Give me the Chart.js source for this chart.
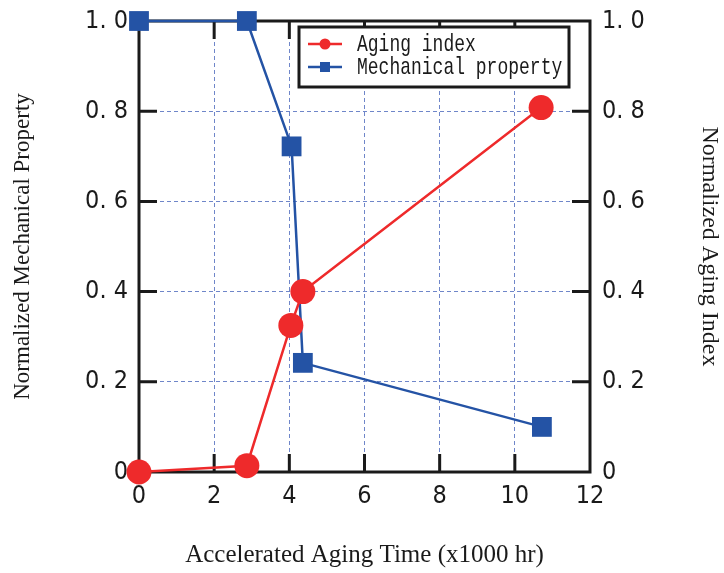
<!DOCTYPE html>
<html>
<head>
<meta charset="utf-8">
<script src="https://cdn.jsdelivr.net/npm/chart.js@4.4.0/dist/chart.umd.min.js"></script>
<style>
html, body { margin: 0; padding: 0; background: #fff; }
#wrap { width: 724px; height: 573px; }
</style>
</head>
<body>
<div id="wrap"><canvas id="agingChart" width="724" height="573"></canvas></div>
<script>
// values
const agingTime = [0, 2.87, 4.04, 4.36, 10.7];
const agingIndex = [0, 0.014, 0.325, 0.40, 0.808];
const mechTime = [0, 2.87, 4.06, 4.36, 10.72];
const mechProperty = [1.0, 1.0, 0.722, 0.242, 0.10];
const xTickLabels = ['0', '2', '4', '6', '8', '10', '12'];
const yTickLabels = ['0', '0. 2', '0. 4', '0. 6', '0. 8', '1. 0'];
const seriesNames = ['Aging index', 'Mechanical property'];

const RED = '#ee2a2b';
const BLUE = '#2453a5';
const GRID = '#6f86c9';
const TICK_FONT = '"Liberation Sans Narrow", "DejaVu Sans Condensed", sans-serif';
const TITLE_FONT = '"Liberation Serif", "DejaVu Serif", serif';

function toPoints(xs, ys) {
    return xs.map((x, i) => ({ x: x, y: ys[i] }));
}

// fixed axis boxes so the plot area lands where the reference has it
function fixWidth(w) {
    return s => { s.width = w; s.paddingTop = 0; s.paddingBottom = 0; };
}

/**
 * Draws the closed frame, the inward tick marks and the boxed legend.
 */
const framePlugin = {
    id: 'frame',
    beforeDatasetsDraw(chart) {
        const { ctx, chartArea: ca, scales } = chart;
        const len = 18;
        ctx.save();
        ctx.strokeStyle = '#1a1a1a';
        ctx.lineWidth = 3;
        ctx.beginPath();
        scales.x.ticks.forEach(t => {
            const px = scales.x.getPixelForValue(t.value);
            if (px <= ca.left + 1 || px >= ca.right - 1) return;
            ctx.moveTo(px, ca.bottom); ctx.lineTo(px, ca.bottom - len);
            ctx.moveTo(px, ca.top); ctx.lineTo(px, ca.top + len);
        });
        scales.y.ticks.forEach(t => {
            const py = scales.y.getPixelForValue(t.value);
            if (py <= ca.top + 1 || py >= ca.bottom - 1) return;
            ctx.moveTo(ca.left, py); ctx.lineTo(ca.left + len, py);
            ctx.moveTo(ca.right, py); ctx.lineTo(ca.right - len, py);
        });
        ctx.stroke();
        ctx.strokeRect(ca.left, ca.top, ca.right - ca.left, ca.bottom - ca.top);
        ctx.restore();
    },
    afterDatasetsDraw(chart) {
        const { ctx, chartArea: ca } = chart;
        const w = 270, h = 60;
        const left = ca.right - 21 - w;
        const top = ca.top + 6;
        ctx.save();
        ctx.fillStyle = '#fff';
        ctx.fillRect(left, top, w, h);
        ctx.strokeStyle = '#1a1a1a';
        ctx.lineWidth = 3;
        ctx.strokeRect(left, top, w, h);

        chart.data.datasets.forEach((ds, i) => {
            const y = top + 17 + i * 23;
            ctx.strokeStyle = ds.borderColor;
            ctx.lineWidth = 2.5;
            ctx.beginPath();
            ctx.moveTo(left + 9, y);
            ctx.lineTo(left + 43, y);
            ctx.stroke();
            ctx.fillStyle = ds.borderColor;
            if (ds.pointStyle === 'rect') {
                ctx.fillRect(left + 26 - 5, y - 5, 10, 10);
            } else {
                ctx.beginPath();
                ctx.arc(left + 26, y, 5.5, 0, Math.PI * 2);
                ctx.fill();
            }
            ctx.fillStyle = '#1a1a1a';
            ctx.font = '18px "Liberation Mono", "DejaVu Sans Mono", monospace';
            ctx.textBaseline = 'middle';
            ctx.save();
            ctx.translate(left + 58, y + 1);
            ctx.scale(1, 1.3);
            ctx.fillText(ds.label, 0, 0);
            ctx.restore();
        });
        ctx.restore();
    }
};

const ctx = document.getElementById('agingChart').getContext('2d');

new Chart(ctx, {
    type: 'scatter',
    data: {
        datasets: [{
            label: seriesNames[0],
            data: toPoints(agingTime, agingIndex),
            yAxisID: 'y2',
            showLine: true,
            borderColor: RED,
            backgroundColor: RED,
            borderWidth: 2.5,
            pointStyle: 'circle',
            pointRadius: 12.5,
            pointHoverRadius: 12.5,
            pointBorderWidth: 0,
            clip: false
        }, {
            label: seriesNames[1],
            data: toPoints(mechTime, mechProperty),
            yAxisID: 'y',
            showLine: true,
            borderColor: BLUE,
            backgroundColor: BLUE,
            borderWidth: 2.5,
            pointStyle: 'rect',
            pointRadius: 14,
            pointHoverRadius: 14,
            pointBorderWidth: 0,
            clip: false
        }]
    },
    options: {
        responsive: false,
        animation: false,
        devicePixelRatio: 1,
        layout: { padding: { top: 21, left: 0, right: 0, bottom: 0 } },
        plugins: {
            legend: { display: false },
            tooltip: { enabled: false }
        },
        scales: {
            x: {
                type: 'linear',
                min: 0,
                max: 12,
                afterFit: s => { s.height = 101; s.paddingLeft = 0; s.paddingRight = 0; },
                border: { display: false, dash: [4, 3] },
                grid: { color: GRID, lineWidth: 1, drawTicks: false },
                ticks: {
                    stepSize: 2,
                    padding: 9,
                    color: '#1a1a1a',
                    font: { family: TICK_FONT, size: 25 },
                    callback: (v, i) => xTickLabels[i]
                },
                title: {
                    display: true,
                    text: 'Accelerated Aging Time (x1000 hr)',
                    color: '#1a1a1a',
                    font: { family: TITLE_FONT, size: 25 },
                    padding: { top: 0, bottom: 3 }
                }
            },
            y: {
                position: 'left',
                min: 0,
                max: 1,
                afterFit: fixWidth(139),
                border: { display: false, dash: [4, 3] },
                grid: { color: GRID, lineWidth: 1, drawTicks: false },
                ticks: {
                    stepSize: 0.2,
                    padding: 11,
                    color: '#1a1a1a',
                    font: { family: TICK_FONT, size: 25 },
                    callback: (v, i) => yTickLabels[i]
                },
                title: {
                    display: true,
                    text: 'Normalized Mechanical Property',
                    color: '#1a1a1a',
                    font: { family: TITLE_FONT, size: 23 },
                    padding: { top: 9, bottom: 0 }
                }
            },
            y2: {
                position: 'right',
                min: 0,
                max: 1,
                afterFit: fixWidth(134),
                border: { display: false },
                grid: { drawOnChartArea: false, drawTicks: false },
                ticks: {
                    stepSize: 0.2,
                    padding: 12,
                    color: '#1a1a1a',
                    font: { family: TICK_FONT, size: 25 },
                    callback: (v, i) => yTickLabels[i]
                },
                title: {
                    display: true,
                    text: 'Normalized Aging Index',
                    color: '#1a1a1a',
                    font: { family: TITLE_FONT, size: 24 },
                    padding: { top: 0, bottom: 0 }
                }
            }
        }
    },
    plugins: [framePlugin]
});
</script>
</body>
</html>
